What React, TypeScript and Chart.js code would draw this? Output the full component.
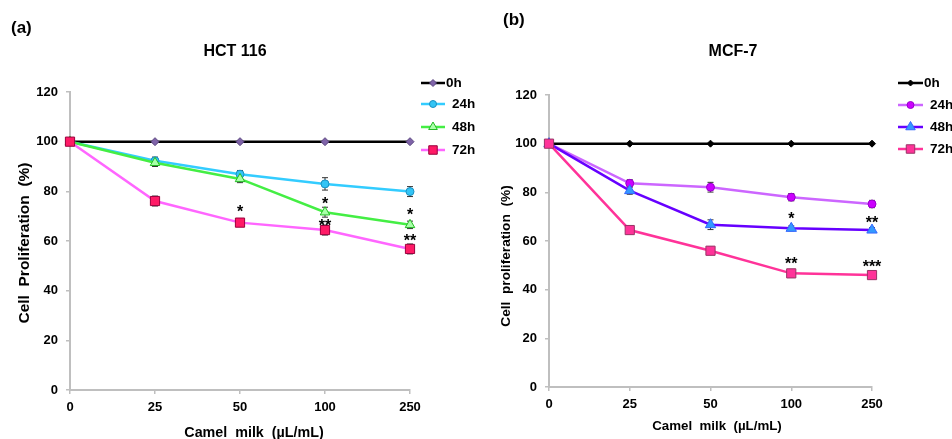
import React, { useEffect, useRef } from 'react';
import { Chart, registerables } from 'chart.js';

Chart.register(...registerables);

// ---------- data ----------
const concentrations = ['0', '25', '50', '100', '250'];
const seriesLabels = ['0h', '24h', '48h', '72h'];

const hct0h = [100, 100, 100, 100, 100];
const hct24h = [100, 92.3, 86.9, 83.0, 79.9];
const hct48h = [100, 91.5, 85.0, 71.6, 66.5];
const hct72h = [100, 76.1, 67.4, 64.4, 56.8];
const hct0hErr = [0, 0, 0, 0, 0];
const hct24hErr = [0.5, 1.5, 1.5, 2.5, 2.0];
const hct48hErr = [0.5, 1.5, 1.5, 2.0, 1.5];
const hct72hErr = [0.5, 2.0, 1.5, 2.0, 2.0];

const mcf0h = [100, 100, 100, 100, 100];
const mcf24h = [100, 83.7, 82.1, 78.0, 75.2];
const mcf48h = [100, 80.7, 66.7, 65.2, 64.5];
const mcf72h = [100, 64.5, 56.0, 46.7, 46.0];
const mcf0hErr = [0, 0, 0, 0, 0];
const mcf24hErr = [1.0, 1.5, 2.0, 1.5, 1.5];
const mcf48hErr = [1.0, 1.5, 2.0, 1.0, 1.0];
const mcf72hErr = [1.0, 1.5, 1.5, 1.5, 1.5];

const hctStarIndex = [2, 3, 3, 4, 4];
const hctStarValue = [73.3, 76.9, 67.8, 72.2, 61.7];
const hctStarText = ['*', '*', '**', '*', '**'];

const mcfStarIndex = [3, 3, 4, 4];
const mcfStarValue = [70.7, 52.2, 69.3, 51.3];
const mcfStarText = ['*', '**', '**', '***'];

const yTicks = [0, 20, 40, 60, 80, 100, 120];

// ---------- styling ----------
const FONT = '"Liberation Sans", Arial, sans-serif';
const AXIS_GRAY = '#BFBFBF';

type Series = {
  data: number[];
  err: number[];
  line: string;
  fill: string;
  border: string;
  style: string;
  radius: number;
};

type PanelCfg = {
  letter: string;
  letterX: number;
  letterY: number;
  title: string;
  titleX: number;
  titleY: number;
  yTitle: string;
  yTitleX: number;
  yTitleY: number;
  yTitleSize: number;
  xTitle: string;
  xTitleX: number;
  xTitleY: number;
  xTitleSize: number;
  top: number;
  padRight: number;
  yw: number;
  xh: number;
  legendX1: number;
  legendX2: number;
  legendRows: number[];
  series: Series[];
  starIndex: number[];
  starValue: number[];
  starText: string[];
};

function drawMarker(ctx: CanvasRenderingContext2D, style: string, x: number, y: number, r: number, fill: string, border: string) {
  ctx.save();
  ctx.beginPath();
  if (style === 'circle') {
    ctx.arc(x, y, r, 0, Math.PI * 2);
  } else if (style === 'rect') {
    const s = Math.SQRT1_2 * r;
    ctx.rect(x - s, y - s, 2 * s, 2 * s);
  } else if (style === 'rectRot') {
    ctx.moveTo(x, y - r);
    ctx.lineTo(x + r, y);
    ctx.lineTo(x, y + r);
    ctx.lineTo(x - r, y);
    ctx.closePath();
  } else if (style === 'triangle') {
    ctx.moveTo(x, y - r);
    ctx.lineTo(x + Math.cos(Math.PI / 6) * r, y + Math.sin(Math.PI / 6) * r);
    ctx.lineTo(x - Math.cos(Math.PI / 6) * r, y + Math.sin(Math.PI / 6) * r);
    ctx.closePath();
  }
  ctx.fillStyle = fill;
  ctx.fill();
  ctx.strokeStyle = border;
  ctx.lineWidth = 1;
  ctx.stroke();
  ctx.restore();
}

function makeOverlay(cfg: PanelCfg) {
  return {
    id: 'overlay',
    beforeDatasetsDraw(chart: any) {
      const ctx: CanvasRenderingContext2D = chart.ctx;
      const ys = chart.scales.y;
      ctx.save();
      ctx.strokeStyle = '#333333';
      ctx.lineWidth = 1;
      cfg.series.forEach((s, i) => {
        const meta = chart.getDatasetMeta(i);
        s.data.forEach((v, j) => {
          const e = s.err[j];
          if (!e) return;
          const x = meta.data[j].x;
          const y1 = ys.getPixelForValue(v + e);
          const y2 = ys.getPixelForValue(v - e);
          ctx.beginPath();
          ctx.moveTo(x, y1);
          ctx.lineTo(x, y2);
          ctx.moveTo(x - 3, y1);
          ctx.lineTo(x + 3, y1);
          ctx.moveTo(x - 3, y2);
          ctx.lineTo(x + 3, y2);
          ctx.stroke();
        });
      });
      ctx.restore();
    },
    afterDraw(chart: any) {
      const ctx: CanvasRenderingContext2D = chart.ctx;
      const xs = chart.scales.x;
      const ys = chart.scales.y;
      ctx.save();
      ctx.fillStyle = '#000';
      ctx.textBaseline = 'middle';

      // panel letter
      ctx.font = `bold 17px ${FONT}`;
      ctx.textAlign = 'left';
      ctx.fillText(cfg.letter, cfg.letterX, cfg.letterY);

      // title
      ctx.font = `bold 16px ${FONT}`;
      ctx.textAlign = 'center';
      ctx.fillText(cfg.title, cfg.titleX, cfg.titleY);

      // axis titles
      ctx.font = `bold ${cfg.xTitleSize}px ${FONT}`;
      ctx.fillText(cfg.xTitle, cfg.xTitleX, cfg.xTitleY);
      ctx.save();
      ctx.translate(cfg.yTitleX, cfg.yTitleY);
      ctx.rotate(-Math.PI / 2);
      ctx.font = `bold ${cfg.yTitleSize}px ${FONT}`;
      ctx.fillText(cfg.yTitle, 0, 0);
      ctx.restore();

      // legend
      ctx.font = `bold 13.5px ${FONT}`;
      ctx.textAlign = 'left';
      cfg.series.forEach((s, i) => {
        const y = cfg.legendRows[i];
        ctx.beginPath();
        ctx.strokeStyle = s.line;
        ctx.lineWidth = 2.5;
        ctx.moveTo(cfg.legendX1, y);
        ctx.lineTo(cfg.legendX2, y);
        ctx.stroke();
        const mx = (cfg.legendX1 + cfg.legendX2) / 2;
        drawMarker(ctx, s.style, mx, y, Math.max(3, s.radius - 0.5), s.fill, s.border);
        ctx.fillStyle = '#000';
        const tx = i === 0 ? cfg.legendX2 + 1 : cfg.legendX2 + 7;
        ctx.fillText(seriesLabels[i], tx, y);
      });

      // significance stars
      ctx.font = `bold 16px ${FONT}`;
      ctx.textAlign = 'center';
      ctx.textBaseline = 'alphabetic';
      cfg.starIndex.forEach((idx, k) => {
        const x = xs.getPixelForTick(idx);
        const y = ys.getPixelForValue(cfg.starValue[k]);
        ctx.fillText(cfg.starText[k], x, y + 9.5);
      });
      ctx.restore();
    },
  };
}

function Panel({ cfg, left }: { cfg: PanelCfg; left: number }) {
  const ref = useRef<HTMLCanvasElement>(null);
  useEffect(() => {
    const tickFont = { family: FONT, size: 13, weight: 'bold' as const };
    const chart = new Chart(ref.current as HTMLCanvasElement, {
      type: 'line',
      data: {
        labels: concentrations,
        datasets: cfg.series.map((s, k) => ({
          label: seriesLabels[k],
          data: s.data,
          borderColor: s.line,
          backgroundColor: s.line,
          borderWidth: 2.5,
          pointStyle: s.style as any,
          pointRadius: s.radius,
          pointBackgroundColor: s.fill,
          pointBorderColor: s.border,
          pointBorderWidth: 1,
          tension: 0,
          order: 3 - k,
          clip: false as any,
        })),
      },
      options: {
        responsive: false,
        animation: false,
        devicePixelRatio: 1,
        events: [],
        layout: { padding: { left: 0, top: cfg.top, right: cfg.padRight, bottom: 0 } },
        plugins: {
          legend: { display: false },
          tooltip: { enabled: false },
          title: { display: false },
        },
        scales: {
          x: {
            type: 'category',
            offset: false,
            grid: {
              display: true,
              drawOnChartArea: false,
              drawTicks: true,
              tickLength: 4,
              color: AXIS_GRAY,
              lineWidth: 1.5,
            },
            border: { color: AXIS_GRAY, width: 2 },
            ticks: { color: '#000', font: tickFont, padding: 6, maxRotation: 0, autoSkip: false },
            afterFit: (s: any) => {
              s.height = cfg.xh;
            },
          },
          y: {
            type: 'linear',
            min: 0,
            max: 120,
            afterBuildTicks: (s: any) => {
              s.ticks = yTicks.map((v) => ({ value: v }));
            },
            grid: {
              display: true,
              drawOnChartArea: false,
              drawTicks: true,
              tickLength: 4,
              color: AXIS_GRAY,
              lineWidth: 1.5,
            },
            border: { color: AXIS_GRAY, width: 2 },
            ticks: { color: '#000', font: tickFont, padding: 8 },
            afterFit: (s: any) => {
              s.width = cfg.yw;
            },
          },
        },
      },
      plugins: [makeOverlay(cfg)],
    });
    return () => chart.destroy();
  }, []);
  return (
    <canvas
      ref={ref}
      width={476}
      height={439}
      style={{ position: 'absolute', left, top: 0, width: 476, height: 439, display: 'block' }}
    />
  );
}

const hctCfg: PanelCfg = {
  letter: '(a)',
  letterX: 11,
  letterY: 28,
  title: 'HCT 116',
  titleX: 235,
  titleY: 52,
  yTitle: 'Cell  Proliferation  (%)',
  yTitleX: 25,
  yTitleY: 243,
  yTitleSize: 15.5,
  xTitle: 'Camel  milk  (µL/mL)',
  xTitleX: 254,
  xTitleY: 433,
  xTitleSize: 14.3,
  top: 92,
  padRight: 66,
  yw: 70,
  xh: 49,
  legendX1: 421,
  legendX2: 445,
  legendRows: [83, 104, 127, 150],
  series: [
    { data: hct0h, err: hct0hErr, line: '#000000', fill: '#7F63A8', border: '#5A4680', style: 'rectRot', radius: 4 },
    { data: hct24h, err: hct24hErr, line: '#33CCFF', fill: '#33C4F5', border: '#1A8FC0', style: 'circle', radius: 4 },
    { data: hct48h, err: hct48hErr, line: '#44EE44', fill: '#A8FFA8', border: '#22BB22', style: 'triangle', radius: 5.5 },
    { data: hct72h, err: hct72hErr, line: '#FF66FF', fill: '#FF1A66', border: '#99003D', style: 'rect', radius: 6.5 },
  ],
  starIndex: hctStarIndex,
  starValue: hctStarValue,
  starText: hctStarText,
};

const mcfCfg: PanelCfg = {
  letter: '(b)',
  letterX: 27,
  letterY: 20,
  title: 'MCF-7',
  titleX: 257,
  titleY: 52,
  yTitle: 'Cell  proliferation  (%)',
  yTitleX: 30,
  yTitleY: 256,
  yTitleSize: 13.7,
  xTitle: 'Camel  milk  (µL/mL)',
  xTitleX: 241,
  xTitleY: 426,
  xTitleSize: 13.3,
  top: 95,
  padRight: 80,
  yw: 73,
  xh: 52,
  legendX1: 898 - 476,
  legendX2: 923 - 476,
  legendRows: [83, 105, 127, 149],
  series: [
    { data: mcf0h, err: mcf0hErr, line: '#000000', fill: '#000000', border: '#000000', style: 'rectRot', radius: 3.5 },
    { data: mcf24h, err: mcf24hErr, line: '#CC66FF', fill: '#CC00FF', border: '#9900CC', style: 'circle', radius: 4 },
    { data: mcf48h, err: mcf48hErr, line: '#6600FF', fill: '#3399FF', border: '#3366FF', style: 'triangle', radius: 6 },
    { data: mcf72h, err: mcf72hErr, line: '#FF3399', fill: '#FF3399', border: '#993366', style: 'rect', radius: 6.5 },
  ],
  starIndex: mcfStarIndex,
  starValue: mcfStarValue,
  starText: mcfStarText,
};

export default function App() {
  return (
    <div style={{ position: 'absolute', left: 0, top: 0, width: 952, height: 439, background: '#fff', overflow: 'hidden' }}>
      <Panel cfg={hctCfg} left={0} />
      <Panel cfg={mcfCfg} left={476} />
    </div>
  );
}
